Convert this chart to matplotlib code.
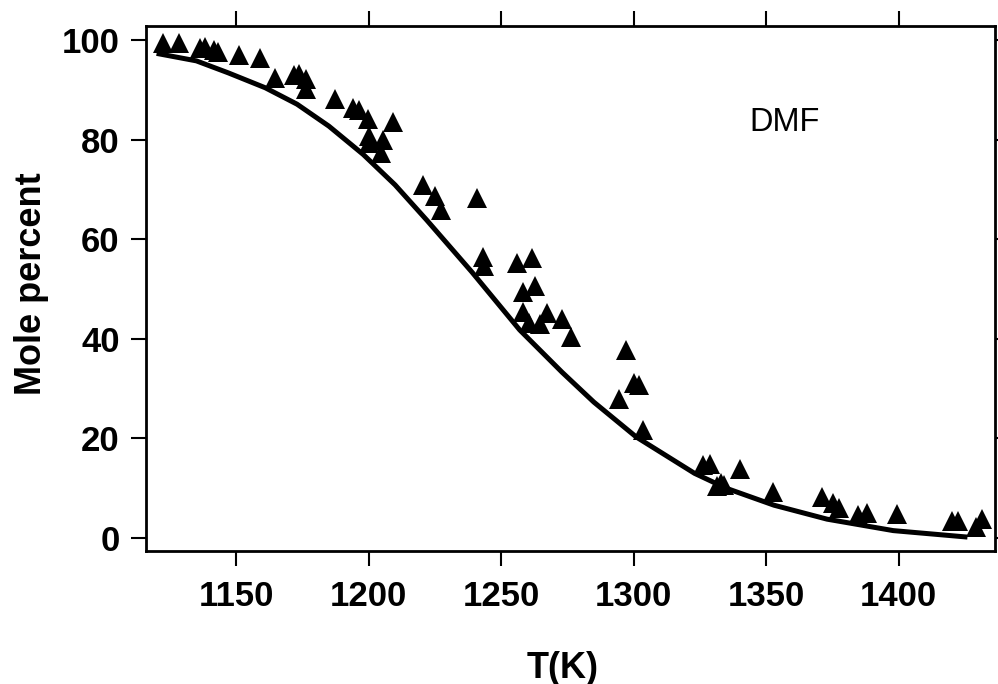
import numpy as np
import matplotlib
matplotlib.use("Agg")
from matplotlib import pyplot as plt

plt.rcParams['font.family'] = ['Liberation Sans', 'DejaVu Sans']

# measured points (T in K, mole percent)
t_meas = [1122.6, 1128.4, 1136.5, 1138.3, 1141.8, 1143.2, 1151.2, 1159.2,
          1164.8, 1172.0, 1173.9, 1176.2, 1176.2, 1187.5, 1194.3, 1196.5,
          1199.7, 1209.4, 1200.1, 1205.6, 1200.0, 1204.7, 1220.4, 1225.1,
          1227.4, 1241.1, 1243.3, 1243.6, 1255.9, 1261.6, 1262.8, 1258.2,
          1258.2, 1267.2, 1260.7, 1264.7, 1272.9, 1276.3, 1297.1, 1300.3,
          1302.0, 1294.6, 1303.7, 1326.3, 1328.9, 1331.4, 1333.0, 1334.3,
          1340.2, 1352.8, 1371.0, 1375.4, 1377.7, 1384.6, 1388.0, 1399.3,
          1420.1, 1422.6, 1429.2, 1431.4]
y_meas = [99.3, 99.4, 98.3, 98.6, 97.9, 97.6, 96.9, 96.3,
          92.4, 93.0, 93.2, 92.1, 90.2, 88.2, 86.4, 85.9,
          84.1, 83.5, 80.7, 80.0, 79.3, 77.4, 70.9, 68.6,
          65.9, 68.2, 56.4, 54.6, 55.3, 56.2, 50.6, 49.3,
          45.3, 45.2, 43.1, 43.0, 44.0, 40.3, 37.8, 31.2,
          30.8, 28.0, 21.7, 14.7, 14.9, 10.5, 11.0, 10.6,
          13.8, 9.3, 8.2, 7.0, 6.0, 4.6, 5.0, 4.8,
          3.5, 3.5, 2.3, 3.8]

# model curve
t_fit = [1120, 1135, 1147, 1161, 1173, 1185, 1198, 1210, 1222, 1239,
         1257, 1273, 1285, 1301, 1323, 1335, 1353, 1373, 1398, 1426]
y_fit = [97.3, 95.8, 93.4, 90.4, 87.1, 82.7, 77.0, 70.9, 63.8, 53.4,
         41.8, 33.3, 27.3, 20.3, 13.0, 10.0, 6.6, 3.8, 1.5, 0.2]

xticks = [1150, 1200, 1250, 1300, 1350, 1400]
yticks = [0, 20, 40, 60, 80, 100]

fig = plt.figure(figsize=(9.98, 6.84), dpi=100)
ax = fig.add_axes([0.1463, 0.1944, 0.8507, 0.7676])

ax.plot(t_fit, y_fit, color="black", lw=3.6, solid_capstyle="butt",
        solid_joinstyle="round")
ax.plot(t_meas, y_meas, "^", color="black", markersize=14.5, markeredgewidth=0)

ax.set_xlim(1116.0, 1436.4)
ax.set_ylim(-2.6, 102.8)
ax.set_xticks(xticks)
ax.set_yticks(yticks)

for s in ax.spines.values():
    s.set_linewidth(2)

ax.tick_params(direction="out", length=11, width=1.5, top=True, right=True,
               labelsize=25)
ax.tick_params(axis="x", pad=10)
ax.tick_params(axis="y", pad=8)
for lab in ax.get_xticklabels() + ax.get_yticklabels():
    lab.set_fontweight("bold")

ax.set_xlabel("T(K)", fontsize=26, fontweight="bold")
ax.xaxis.set_label_coords(0.491, -0.190)
ax.set_ylabel("Mole percent", fontsize=26, fontweight="bold")
ax.yaxis.set_label_coords(-0.114, 0.51)

ax.text(1343.7, 81.7, "DMF", fontsize=23.5, ha="left", va="baseline")

fig.savefig("out.png", dpi=100)
